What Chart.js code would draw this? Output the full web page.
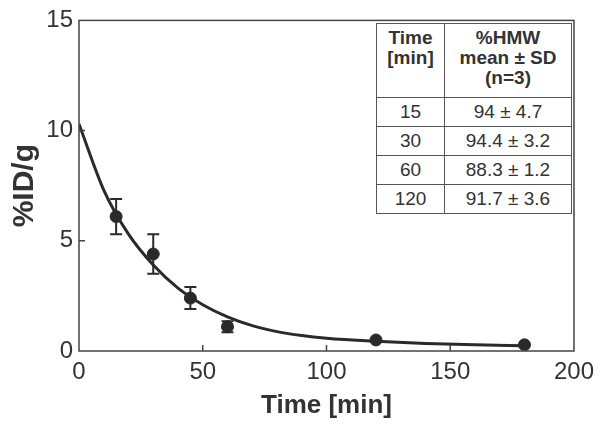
<!DOCTYPE html>
<html>
<head>
<meta charset="utf-8">
<script src="https://cdn.jsdelivr.net/npm/chart.js@4"></script>
<style>
  body { margin: 0; background: #fff; }
  #wrap { position: relative; width: 601px; height: 431px; }
  #hmw {
    position: absolute; left: 376px; top: 23px; width: 196px; height: 189px;
    border-collapse: collapse; background: #fff;
    font-family: "Liberation Sans", Arial, sans-serif; color: #333;
  }
  #hmw td, #hmw th { border: 1.5px solid #555; text-align: center; padding: 0; }
  #hmw th { font-weight: bold; font-size: 19px; line-height: 20px; height: 69px; vertical-align: top; padding-top: 4px; }
  #hmw td { font-size: 19px; height: 28px; }
</style>
</head>
<body>
<div id="wrap">
  <canvas id="chart" width="601" height="431"></canvas>
  <table id="hmw"></table>
</div>
<script>
// measured points (mean, sd)
const timeMin = [15, 30, 45, 60, 120, 180];
const meanID = [6.1, 4.4, 2.4, 1.1, 0.5, 0.28];
const sdID = [0.8, 0.9, 0.5, 0.25, 0, 0];

// fitted curve
const fitTime = [0, 10, 20, 30, 40, 50, 60, 70, 80, 90, 100, 120, 140, 160, 180];
const fitID = [10.3, 7.3, 5.3, 3.9, 2.85, 2.1, 1.55, 1.15, 0.88, 0.7, 0.58, 0.44, 0.34, 0.28, 0.24];

const xTicks = [0, 50, 100, 150, 200];
const yTicks = [0, 5, 10, 15];

// inset table
const tableHead = ["Time<br>[min]", "%HMW<br>mean ± SD<br>(n=3)"];
const tableTime = ["15", "30", "60", "120"];
const tableHMW = ["94 ± 4.7", "94.4 ± 3.2", "88.3 ± 1.2", "91.7 ± 3.6"];

var tbl = document.getElementById("hmw");
var html = "<tr><th style='width:67px'>" + tableHead[0] + "</th><th>" + tableHead[1] + "</th></tr>";
tableTime.forEach(function (t, i) {
  html += "<tr><td>" + t + "</td><td>" + tableHMW[i] + "</td></tr>";
});
tbl.innerHTML = html;

const ink = "#2a2a2a";

// frame, inward ticks and error bars
const extras = {
  id: "extras",
  afterDatasetsDraw(chart) {
    const ctx = chart.ctx;
    const a = chart.chartArea;
    const xs = chart.scales.x, ys = chart.scales.y;
    ctx.save();
    ctx.strokeStyle = "#444";
    ctx.lineWidth = 1.5;
    ctx.strokeRect(a.left, a.top, a.right - a.left, a.bottom - a.top);
    ctx.beginPath();
    xTicks.slice(1, -1).forEach(function (v) {
      const px = xs.getPixelForValue(v);
      ctx.moveTo(px, a.bottom);
      ctx.lineTo(px, a.bottom - 6);
    });
    yTicks.slice(1, -1).forEach(function (v) {
      const py = ys.getPixelForValue(v);
      ctx.moveTo(a.left, py);
      ctx.lineTo(a.left + 6, py);
    });
    ctx.stroke();

    ctx.strokeStyle = ink;
    ctx.lineWidth = 2;
    ctx.beginPath();
    timeMin.forEach(function (t, i) {
      if (!sdID[i]) return;
      const px = xs.getPixelForValue(t);
      const top = ys.getPixelForValue(meanID[i] + sdID[i]);
      const bot = ys.getPixelForValue(meanID[i] - sdID[i]);
      ctx.moveTo(px, top); ctx.lineTo(px, bot);
      ctx.moveTo(px - 6, top); ctx.lineTo(px + 6, top);
      ctx.moveTo(px - 6, bot); ctx.lineTo(px + 6, bot);
    });
    ctx.stroke();
    ctx.restore();
  }
};

new Chart(document.getElementById("chart"), {
  type: "scatter",
  data: {
    datasets: [
      {
        data: fitTime.map(function (t, i) { return { x: t, y: fitID[i] }; }),
        showLine: true,
        borderColor: ink,
        borderWidth: 3,
        pointRadius: 0,
        cubicInterpolationMode: "monotone"
      },
      {
        data: timeMin.map(function (t, i) { return { x: t, y: meanID[i] }; }),
        backgroundColor: ink,
        borderColor: ink,
        pointRadius: 6
      }
    ]
  },
  options: {
    responsive: false,
    animation: false,
    layout: { padding: { top: 18, right: 23, left: 0, bottom: 0 } },
    plugins: { legend: { display: false }, tooltip: { enabled: false } },
    scales: {
      x: {
        type: "linear", min: 0, max: 200,
        afterFit: function (s) { s.height = 80; },
        afterBuildTicks: function (s) { s.ticks = xTicks.map(function (v) { return { value: v }; }); },
        grid: { display: false, drawTicks: false },
        border: { display: false },
        ticks: { padding: 7, color: "#333", font: { family: "Liberation Sans", size: 24 } },
        title: {
          display: true, text: "Time [min]", color: "#333",
          font: { family: "Liberation Sans", size: 26, weight: "bold" },
          padding: { top: 0, bottom: 10 }
        }
      },
      y: {
        min: 0, max: 15,
        afterFit: function (s) { s.width = 79; },
        afterBuildTicks: function (s) { s.ticks = yTicks.map(function (v) { return { value: v }; }); },
        grid: { display: false, drawTicks: false },
        border: { display: false },
        ticks: { padding: 6, color: "#333", font: { family: "Liberation Sans", size: 24 } },
        title: {
          display: true, text: "%ID/g", color: "#333",
          font: { family: "Liberation Sans", size: 30, weight: "bold" },
          padding: { top: 7, bottom: 0 }
        }
      }
    }
  },
  plugins: [extras]
});
</script>
</body>
</html>
